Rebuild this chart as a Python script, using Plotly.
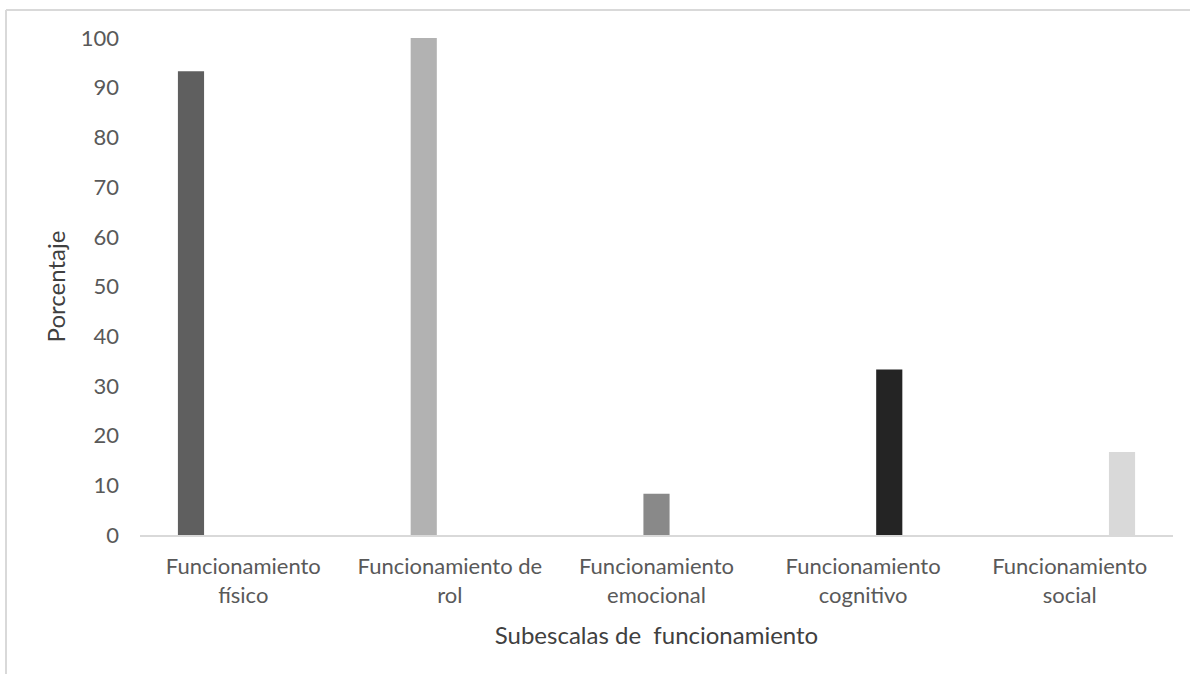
import plotly.graph_objects as go

# Functioning subscales and the percentage reported for each
categories = [
    "Funcionamiento<br>físico",
    "Funcionamiento de<br>rol",
    "Funcionamiento<br>emocional",
    "Funcionamiento<br>cognitivo",
    "Funcionamiento<br>social",
]
values = [93.3, 100, 8.3, 33.3, 16.7]
colors = ["#5f5f5f", "#b2b2b2", "#898989", "#242424", "#d9d9d9"]
y_ticks = list(range(0, 101, 10))

W, H = 1190, 674
L, R, T, B = 140, 17, 38, 139

fig = go.Figure()
# one series per subscale, each holding only its own category (grouped layout)
for i, (cat, val, col) in enumerate(zip(categories, values, colors)):
    ys = [val if j == i else None for j in range(len(categories))]
    fig.add_trace(go.Bar(x=categories, y=ys, marker_color=col,
                         marker_line_width=0, name=cat, hoverinfo="y"))

font_family = "Lato, 'Open Sans', sans-serif"

# convert pixel positions into paper coordinates for the frame lines
pw, ph = W - L - R, H - T - B
def px_x(p):
    return (p - L) / pw
def px_y(p):
    return 1 - (p - T) / ph

frame = dict(type="line", xref="paper", yref="paper",
             line=dict(color="#d9d9d9", width=2), layer="below")
shapes = [
    dict(frame, x0=px_x(6), x1=px_x(W + 2), y0=px_y(10), y1=px_y(10)),
    dict(frame, x0=px_x(6), x1=px_x(6), y0=px_y(10), y1=px_y(H + 2)),
]

fig.update_layout(
    width=W, height=H,
    margin=dict(l=L, r=R, t=T, b=B, autoexpand=False),
    paper_bgcolor="white", plot_bgcolor="white",
    barmode="group", bargap=0.367, bargroupgap=0,
    showlegend=False,
    font=dict(family=font_family, size=22, color="#595959"),
    shapes=shapes,
    xaxis=dict(
        showgrid=False, zeroline=False,
        showline=True, linecolor="#d9d9d9", linewidth=2,
        ticks="", tickfont=dict(size=22, color="#595959"),
        ticklabelstandoff=11,
        title=dict(text="Subescalas de \u00a0funcionamiento",
                   font=dict(size=24, color="#404040"), standoff=20),
    ),
    yaxis=dict(
        range=[0, 100], tickvals=y_ticks,
        showgrid=False, zeroline=False, showline=False,
        ticks="", tickfont=dict(size=22, color="#595959"),
        ticklabelstandoff=20,
        title=dict(text="Porcentaje",
                   font=dict(size=24, color="#404040"), standoff=8),
    ),
)

fig.write_html("out.html")
